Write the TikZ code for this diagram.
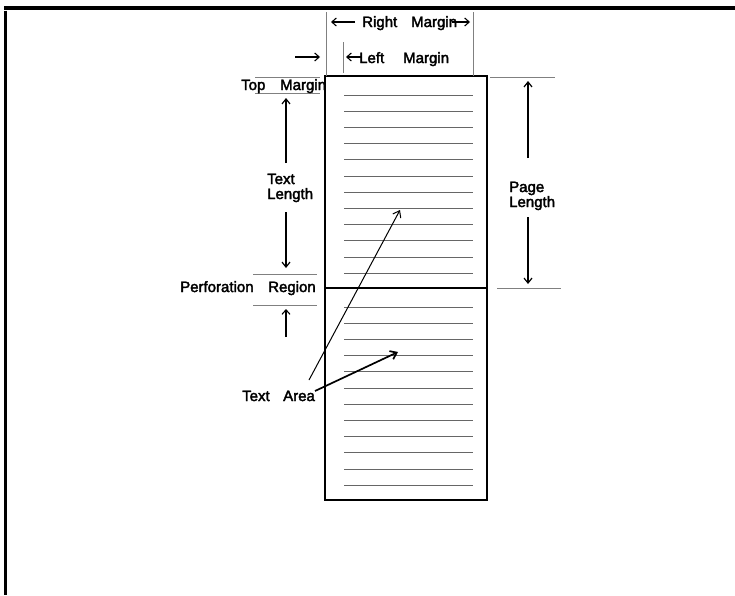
\documentclass[tikz,border=0pt]{standalone}
\usepackage{fontspec}
\setmainfont{Liberation Sans}
\newfontfamily\lblfont{Liberation Sans}[FakeBold=2.5]
\usetikzlibrary{arrows.meta}
\begin{document}
\begin{tikzpicture}[x=1pt,y=-1pt,
  lbl/.style={inner sep=0pt, anchor=base west, font=\lblfont\fontsize{15}{18}\selectfont},
  rule/.style={draw=black!60, line width=1pt},
  guide/.style={draw=black!50, line width=0.8pt},
  dim/.style={draw=black, line width=1.2pt, -{Straight Barb[length=5pt,width=8pt]}},
  glyph/.style={draw=black, line width=1.1pt, -{Straight Barb[length=4.5pt,width=8pt]}},
  pointer/.style={draw=black, line width=1pt, -{Straight Barb[length=6pt,width=9pt]}}]
\useasboundingbox (0,0) rectangle (735,595);
\fill[white] (0,0) rectangle (735,595);
% frame
\draw[line width=3.2pt] (4,8) -- (735,8);
\draw[line width=3.2pt] (5.5,10.5) -- (5.5,595);
% page
\draw[line width=1.6pt] (325,76) rectangle (487,500);
\draw[line width=2.6pt] (325,288) -- (487,288);
\foreach \i in {0,...,11} {
  \draw[rule] (344,95+\i*16.2) -- (473,95+\i*16.2);
  \draw[rule] (344,307+\i*16.2) -- (473,307+\i*16.2);
}
% right margin
\draw[guide] (326,12) -- (326,76);
\draw[guide] (473,12) -- (473,76);
\node[lbl] (right) at (362,27) {Right};
\node[lbl] (rmargin) at (411,27) {Margin};
\coordinate (ra1) at (355,22); \coordinate (ra2) at (331,22);
\draw[glyph] (ra1) -- (ra2);
\coordinate (ra3) at (452,22); \coordinate (ra4) at (470,22);
\draw[glyph] (ra3) -- (ra4);
% left margin
\draw[guide] (343,42) -- (343,73);
\node[lbl] (left) at (359,63) {Left};
\node[lbl] (lmargin) at (403,63) {Margin};
\coordinate (la1) at (295,57); \coordinate (la2) at (320,57);
\draw[glyph] (la1) -- (la2);
\coordinate (la3) at (362,57); \coordinate (la4) at (346,57);
\draw[glyph] (la3) -- (la4);
% top margin
\draw[guide] (255,77) -- (320,77);
\draw[guide] (255,93) -- (320,93);
\node[lbl] (top) at (241,90) {Top};
\node[lbl] (tmargin) at (280,90) {Margin};
% text length
\node[lbl] (tl1) at (267,184) {Text};
\node[lbl] (tl2) at (267,199) {Length};
\coordinate (t1) at (286,163); \coordinate (t2) at (286,98);
\draw[dim] (t1) -- (t2);
\coordinate (t3) at (286,212); \coordinate (t4) at (286,268);
\draw[dim] (t3) -- (t4);
% perforation region
\draw[guide] (253,274) -- (317,274);
\draw[guide] (253,305) -- (317,305);
\node[lbl] (perf) at (180,292) {Perforation};
\node[lbl] (region) at (268,292) {Region};
\coordinate (p1) at (286,337); \coordinate (p2) at (286,309);
\draw[glyph] (p1) -- (p2);
% page length
\draw[guide] (490,77) -- (555,77);
\draw[guide] (497,288) -- (561,288);
\node[lbl] (pl1) at (509,192) {Page};
\node[lbl] (pl2) at (509,207) {Length};
\coordinate (g1) at (528,158); \coordinate (g2) at (528,81);
\draw[dim] (g1) -- (g2);
\coordinate (g3) at (528,217); \coordinate (g4) at (528,284);
\draw[dim] (g3) -- (g4);
% text area
\node[lbl] (ta1) at (242,401) {Text};
\node[lbl] (ta2) at (283,401) {Area};
\coordinate (a0) at (309,380);
\coordinate (a1) at (400,210);
\coordinate (a3) at (315,391);
\coordinate (a2) at (398,352);
\draw[pointer, line width=1pt] (a0) -- (a1);
\draw[pointer, line width=1.7pt] (a3) -- (a2);
\end{tikzpicture}
\end{document}
